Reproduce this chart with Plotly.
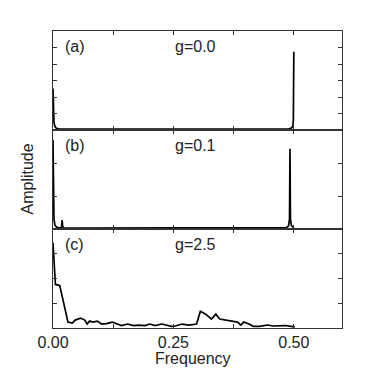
import plotly.graph_objects as go
from plotly.subplots import make_subplots

# ---- data (amplitude in fraction of panel height) ----
freq_a = [0.0, 0.001, 0.002, 0.004, 0.007, 0.012, 0.05, 0.1, 0.2, 0.3, 0.4, 0.47, 0.49, 0.495, 0.498, 0.499, 0.5]
amp_a = [0.42, 0.2, 0.08, 0.035, 0.018, 0.012, 0.01, 0.01, 0.01, 0.01, 0.01, 0.01, 0.012, 0.02, 0.04, 0.1, 0.79]

freq_b = [0.0, 0.001, 0.002, 0.004, 0.007, 0.012, 0.017, 0.018, 0.019, 0.02, 0.022, 0.05, 0.1, 0.2, 0.3, 0.4, 0.47,
          0.485, 0.489, 0.491, 0.492, 0.493, 0.495, 0.498, 0.5]
amp_b = [0.9, 0.3, 0.1, 0.04, 0.02, 0.012, 0.012, 0.03, 0.09, 0.03, 0.01, 0.01, 0.01, 0.01, 0.01, 0.01, 0.01,
         0.015, 0.03, 0.1, 0.81, 0.1, 0.035, 0.015, 0.01]

freq_c = [0.0, 0.005, 0.014, 0.021, 0.031, 0.040, 0.046, 0.057, 0.066, 0.071, 0.076, 0.083, 0.092, 0.101, 0.111,
          0.123, 0.132, 0.142, 0.155, 0.167, 0.177, 0.191, 0.201, 0.212, 0.226, 0.236, 0.246, 0.254, 0.268, 0.282,
          0.298, 0.306, 0.317, 0.329, 0.338, 0.346, 0.358, 0.372, 0.383, 0.390, 0.396, 0.407, 0.416, 0.428, 0.438,
          0.446, 0.456, 0.469, 0.483, 0.494, 0.502]
amp_c = [0.86, 0.44, 0.43, 0.27, 0.06, 0.05, 0.08, 0.10, 0.08, 0.04, 0.07, 0.06, 0.07, 0.04, 0.045,
         0.06, 0.04, 0.025, 0.04, 0.025, 0.03, 0.025, 0.04, 0.025, 0.04, 0.03, 0.017, 0.02, 0.04, 0.03,
         0.04, 0.17, 0.14, 0.09, 0.14, 0.09, 0.08, 0.07, 0.06, 0.03, 0.06, 0.04, 0.017, 0.017, 0.02,
         0.03, 0.02, 0.02, 0.025, 0.017, 0.012]

panel_labels = ["(a)", "(b)", "(c)"]
g_labels = ["g=0.0", "g=0.1", "g=2.5"]
x_tickvals = [0.0, 0.125, 0.25, 0.375, 0.5]
x_ticktext = ["0.00", "", "0.25", "", "0.50"]
y_ticks = [[1/6, 2/6, 3/6, 4/6, 5/6], [1/3, 2/3], [1/4, 2/4, 3/4]]

FONT = "Liberation Sans, Arial, Helvetica, sans-serif"
AX = "#333333"

fig = make_subplots(rows=3, cols=1, shared_xaxes=True, vertical_spacing=0)
for i, (fx, ay) in enumerate([(freq_a, amp_a), (freq_b, amp_b), (freq_c, amp_c)]):
    fig.add_trace(go.Scatter(x=fx, y=ay, mode="lines", line=dict(color="black", width=1.7),
                             showlegend=False, hoverinfo="skip"), row=i + 1, col=1)
    fig.update_yaxes(range=[0, 1], tickvals=y_ticks[i], ticks="inside", ticklen=4, tickcolor=AX,
                     showticklabels=False, showgrid=False, zeroline=False, showline=True,
                     linecolor=AX, linewidth=1, mirror="ticks", row=i + 1, col=1)
    fig.update_xaxes(range=[0, 0.6], tickvals=x_tickvals, ticks="inside", ticklen=4,
                     tickcolor=AX, showgrid=False, zeroline=False, showline=True, linecolor=AX,
                     linewidth=1, mirror="ticks", showticklabels=(i == 2), row=i + 1, col=1)
    yref = "y domain" if i == 0 else f"y{i+1} domain"
    xref = "x" if i == 0 else f"x{i+1}"
    fig.add_annotation(x=0.021, y=0.84, xref=xref, yref=yref, text=panel_labels[i], showarrow=False,
                       xanchor="left", yanchor="middle", font=dict(size=16, color="#222", family=FONT))
    fig.add_annotation(x=0.25, y=0.84, xref=xref, yref=yref, text=g_labels[i], showarrow=False,
                       xanchor="left", yanchor="middle", font=dict(size=16, color="#222", family=FONT))

fig.update_xaxes(ticktext=x_ticktext, tickfont=dict(size=16, color="#222", family=FONT), row=3, col=1)

fig.add_annotation(x=0, y=0.5, xref="paper", yref="paper", text="Amplitude", showarrow=False,
                   textangle=-90, xanchor="center", yanchor="middle", xshift=-26,
                   font=dict(size=16, color="#222", family=FONT))
fig.add_annotation(x=0.486, y=0, xref="paper", yref="paper", text="Frequency",
                   showarrow=False, xanchor="center", yanchor="middle", yshift=-30,
                   font=dict(size=16, color="#222", family=FONT))

# page body has an 8px margin, so the figure is sized to land the plot area where the reference has it
fig.update_layout(width=370, height=381, margin=dict(l=45, r=36, t=23, b=61),
                  paper_bgcolor="white", plot_bgcolor="white", font=dict(family=FONT))
fig.write_html("out.html")
